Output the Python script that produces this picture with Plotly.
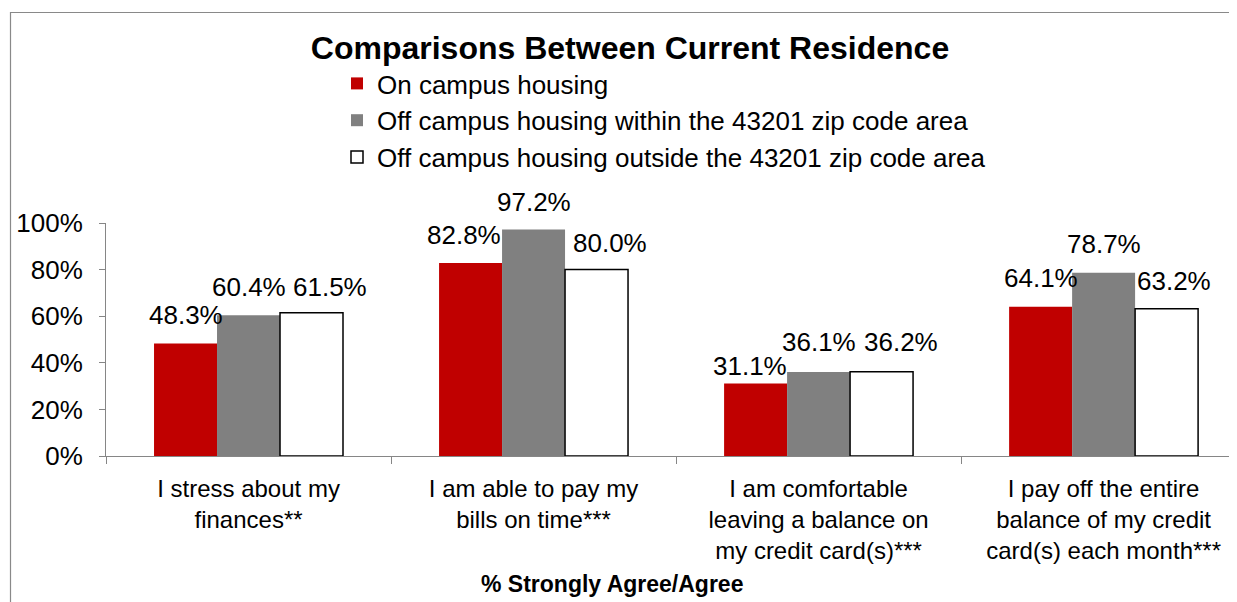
import plotly.graph_objects as go

categories = [
    "I stress about my<br>finances**",
    "I am able to pay my<br>bills on time***",
    "I am comfortable<br>leaving a balance on<br>my credit card(s)***",
    "I pay off the entire<br>balance of my credit<br>card(s) each month***",
]
on_campus = [0.483, 0.828, 0.311, 0.641]
off_within = [0.604, 0.972, 0.361, 0.787]
off_outside = [0.615, 0.800, 0.362, 0.632]

series = [
    ("On campus housing", on_campus, "#C00000", "#C00000", 0),
    ("Off campus housing within the 43201 zip code area", off_within, "#808080", "#808080", 0),
    ("Off campus housing outside the 43201 zip code area", off_outside, "#FFFFFF", "#000000", 1.5),
]

# label nudges (px) to mimic the spread-out data labels of the original
nudge_x = [[0, -7, -6, 0], [0, 0, 0, 0], [18, 13, 19, 7]]
nudge_y = [[0, 0, -10, 1], [0, 0, 2, 1], [-2, -1, 2, 0]]

FONT = "Arial, Liberation Sans, sans-serif"
OFF = 8  # page body margin of the html page
W, H = 1237 - OFF, 602 - OFF
ML, MT, MB = 106 - OFF, 223 - OFF, 146
BARGAP = 0.337
x_end = 3.468
PW, PH = W - ML, H - MT - MB

fig = go.Figure()
for i, (name, vals, fill, edge, lw) in enumerate(series):
    fig.add_trace(go.Bar(
        x=categories, y=vals, name=name, legendgroup=name,
        marker=dict(color=fill, line=dict(color=edge, width=lw)),
    ))

px_per_cat = PW / (x_end + 0.5)
bar_px = (1 - BARGAP) / 3 * px_per_cat
annotations = []
for i, (name, vals, fill, edge, lw) in enumerate(series):
    for j, v in enumerate(vals):
        annotations.append(dict(
            x=categories[j], y=v, xref="x", yref="y",
            text=f"{v*100:.1f}%", showarrow=False,
            xanchor="center", yanchor="bottom",
            xshift=(i - 1) * bar_px + nudge_x[i][j],
            yshift=11 + nudge_y[i][j],
            font=dict(family=FONT, size=26, color="black"),
        ))

annotations.append(dict(
    text="<b>% Strongly Agree/Agree</b>", showarrow=False,
    xref="paper", yref="paper",
    x=(612 - OFF - ML) / PW, y=(H - MB - (584 - OFF)) / PH,
    xanchor="center", yanchor="middle",
    font=dict(family=FONT, size=23, color="black"),
))

fig.update_layout(
    width=W, height=H,
    margin=dict(l=ML, r=0, t=MT, b=MB, pad=0, autoexpand=False),
    paper_bgcolor="white", plot_bgcolor="white",
    font=dict(family=FONT, color="black"),
    barmode="group", bargap=BARGAP, bargroupgap=0,
    title=dict(
        text="<b>Comparisons Between Current Residence</b>",
        x=(630 - OFF) / W, xanchor="center", xref="container",
        y=1 - (48 - OFF) / H, yanchor="middle", yref="container",
        font=dict(family=FONT, size=32, color="black"),
    ),
    legend=dict(
        x=(337 - OFF) / W, xanchor="left", xref="container",
        y=1 - (60 - OFF) / H, yanchor="top", yref="container",
        font=dict(family=FONT, size=26, color="black"),
        tracegroupgap=0, bgcolor="rgba(0,0,0,0)",
    ),
    showlegend=True,
    annotations=annotations,
    shapes=[dict(
        type="rect", xref="paper", yref="paper",
        x0=(10.5 - OFF - ML) / PW, x1=1.2,
        y0=-1.0, y1=(H - MB - (12.5 - OFF)) / PH,
        line=dict(color="#898989", width=1.2), layer="below",
    )],
)

fig.update_xaxes(
    range=[-0.5, x_end], showline=True, linecolor="#868686", linewidth=1,
    ticks="outside", tickson="boundaries", ticklen=7, tickcolor="#868686",
    tickfont=dict(family=FONT, size=24, color="black"), tickangle=0,
    showgrid=False, zeroline=False, ticklabelstandoff=11,
)
fig.update_yaxes(
    range=[0, 1], dtick=0.2, tickformat=".0%",
    showline=True, linecolor="#868686", linewidth=1,
    ticks="outside", ticklen=6, tickcolor="#868686",
    tickfont=dict(family=FONT, size=26, color="black"),
    showgrid=False, zeroline=False, ticklabelstandoff=11,
)

fig.write_html("out.html")
